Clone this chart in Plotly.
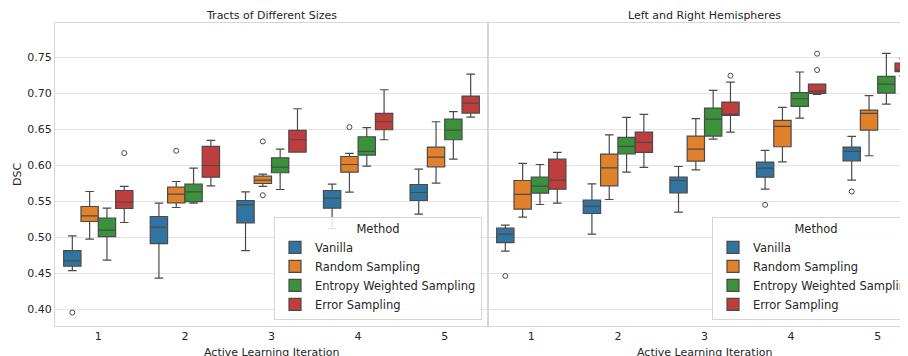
import plotly.graph_objects as go

METHODS = ["Vanilla", "Random Sampling", "Entropy Weighted Sampling", "Error Sampling"]
ITERATIONS = [1, 2, 3, 4, 5]
PANELS = ["Tracts of Different Sizes", "Left and Right Hemispheres"]
COLORS = ["#3274a1", "#e1812c", "#3a923a", "#c03d3e"]

# ---- Tracts of Different Sizes (rows = methods, cols = iterations) ----
tracts_lower = [
    [0.4537, 0.4431, 0.4815, 0.5120, 0.5320],
    [0.4972, 0.5412, 0.5704, 0.5625, 0.5750],
    [0.4681, 0.5472, 0.5662, 0.5986, 0.6083],
    [0.5204, 0.5713, 0.6181, 0.6352, 0.6667],
]
tracts_q1 = [
    [0.4597, 0.4912, 0.5199, 0.5403, 0.5509],
    [0.5218, 0.5477, 0.5745, 0.5903, 0.5977],
    [0.5009, 0.5495, 0.5894, 0.6139, 0.6352],
    [0.5398, 0.5833, 0.6181, 0.6491, 0.6722],
]
tracts_median = [
    [0.4671, 0.5139, 0.5449, 0.5542, 0.5620],
    [0.5296, 0.5597, 0.5792, 0.6009, 0.6111],
    [0.5097, 0.5630, 0.5972, 0.6190, 0.6486],
    [0.5486, 0.5995, 0.6352, 0.6602, 0.6861],
]
tracts_q3 = [
    [0.4815, 0.5287, 0.5509, 0.5648, 0.5731],
    [0.5426, 0.5694, 0.5847, 0.6120, 0.6250],
    [0.5264, 0.5736, 0.6102, 0.6394, 0.6639],
    [0.5648, 0.6259, 0.6481, 0.6718, 0.6958],
]
tracts_upper = [
    [0.5019, 0.5472, 0.5630, 0.5736, 0.5944],
    [0.5634, 0.5773, 0.5875, 0.6162, 0.6602],
    [0.5403, 0.5958, 0.6222, 0.6519, 0.6741],
    [0.5704, 0.6343, 0.6782, 0.7046, 0.7264],
]
# outliers: (method index, iteration, value)
tracts_outliers = [
    (0, 1, 0.3954), (1, 2, 0.6199), (1, 3, 0.6329), (1, 3, 0.5583),
    (1, 4, 0.6528), (3, 1, 0.6167),
]

# ---- Left and Right Hemispheres ----
hemi_lower = [
    [0.4806, 0.5042, 0.5347, 0.5667, 0.5792],
    [0.5278, 0.5523, 0.5935, 0.6046, 0.6130],
    [0.5454, 0.5903, 0.6361, 0.6653, 0.6847],
    [0.5472, 0.5968, 0.6458, 0.6981, 0.7241],
]
hemi_q1 = [
    [0.4926, 0.5329, 0.5616, 0.5833, 0.6060],
    [0.5389, 0.5713, 0.6056, 0.6255, 0.6486],
    [0.5611, 0.6157, 0.6403, 0.6815, 0.7000],
    [0.5667, 0.6176, 0.6690, 0.6995, 0.7296],
]
hemi_median = [
    [0.5042, 0.5431, 0.5787, 0.5958, 0.6190],
    [0.5593, 0.5963, 0.6222, 0.6537, 0.6718],
    [0.5708, 0.6259, 0.6639, 0.6921, 0.7125],
    [0.5792, 0.6315, 0.6704, 0.7028, 0.7319],
]
hemi_q3 = [
    [0.5125, 0.5514, 0.5833, 0.6042, 0.6250],
    [0.5787, 0.6153, 0.6403, 0.6620, 0.6764],
    [0.5833, 0.6384, 0.6792, 0.7005, 0.7231],
    [0.6083, 0.6458, 0.6875, 0.7125, 0.7417],
]
hemi_upper = [
    [0.5167, 0.5741, 0.5981, 0.6204, 0.6398],
    [0.6023, 0.6421, 0.6644, 0.6801, 0.6963],
    [0.6009, 0.6662, 0.7037, 0.7292, 0.7551],
    [0.6176, 0.6704, 0.7153, 0.7125, 0.7481],
]
hemi_outliers = [
    (0, 1, 0.4463), (3, 3, 0.7241), (0, 4, 0.5449), (3, 4, 0.7546),
    (3, 4, 0.7319), (0, 5, 0.5634), (3, 5, 0.7773),
]

Y_TICKS = [0.40, 0.45, 0.50, 0.55, 0.60, 0.65, 0.70, 0.75]

# ---------------- figure ----------------
# the page body adds an 8px offset, so the figure is 8px smaller than the window
W, H = 900, 348
ML, MR, MT, MB = 47, 0, 15, 30
plot_w = W - ML - MR
panel_px = 433
split = panel_px / plot_w
n_m = len(METHODS)
group_w = 0.8
box_w = group_w / n_m

LINE = "#4a4a4a"
TXT = "#262626"
FONT = "DejaVu Sans"

fig = go.Figure()

panels = [
    (tracts_lower, tracts_q1, tracts_median, tracts_q3, tracts_upper, tracts_outliers, "x", "y", "legend"),
    (hemi_lower, hemi_q1, hemi_median, hemi_q3, hemi_upper, hemi_outliers, "x2", "y2", "legend2"),
]

for lo, q1, md, q3, up, outl, xa, ya, lg in panels:
    for j, m in enumerate(METHODS):
        off = (j - (n_m - 1) / 2) * box_w
        xs = [it + off for it in ITERATIONS]
        fig.add_trace(go.Box(
            x=xs, q1=q1[j], median=md[j], q3=q3[j],
            lowerfence=lo[j], upperfence=up[j],
            width=box_w, whiskerwidth=0.5,
            fillcolor=COLORS[j], line=dict(color=LINE, width=1.2),
            name=m, legend=lg, xaxis=xa, yaxis=ya, boxpoints=False,
            showlegend=True,
        ))
    ox = [it + (mi - (n_m - 1) / 2) * box_w for mi, it, v in outl]
    oy = [v for mi, it, v in outl]
    fig.add_trace(go.Scatter(
        x=ox, y=oy, mode="markers", xaxis=xa, yaxis=ya, showlegend=False,
        marker=dict(symbol="circle-open", size=5, color=LINE, line=dict(width=1, color=LINE)),
    ))

y_range = [0.3768, 0.7972]
right_end = 0.5 + (plot_w - panel_px) / (panel_px / 5)

axis_common = dict(showline=True, linecolor="#d6d6d6", linewidth=1, zeroline=False,
                   ticks="", tickfont=dict(family=FONT, size=11, color=TXT))

legend_common = dict(title=dict(text="Method", side="top center",
                                font=dict(family=FONT, size=11.5, color=TXT)),
                     y=0.02, yanchor="bottom",
                     bgcolor="rgba(255,255,255,0.85)", bordercolor="#d6d6d6", borderwidth=1,
                     font=dict(family=FONT, size=11.5, color=TXT), tracegroupgap=0,
                     itemwidth=30)

fig.update_layout(
    width=W, height=H,
    margin=dict(l=ML, r=MR, t=MT, b=MB, autoexpand=False),
    paper_bgcolor="white", plot_bgcolor="white",
    font=dict(family=FONT, size=11, color=TXT),
    xaxis=dict(domain=[0, split], range=[0.5, 5.5], tickvals=ITERATIONS,
               ticktext=[str(i) for i in ITERATIONS], showgrid=False, mirror=True,
               **axis_common),
    xaxis2=dict(domain=[split, 1], range=[0.5, right_end], tickvals=ITERATIONS,
                ticktext=[str(i) for i in ITERATIONS], showgrid=False, mirror=True,
                anchor="y2", **axis_common),
    yaxis=dict(range=y_range, tickvals=Y_TICKS, ticktext=[f"{v:.2f}" for v in Y_TICKS],
               showgrid=True, gridcolor="#e3e3e3", gridwidth=1, mirror=True,
               title=dict(text="DSC", font=dict(family=FONT, size=11, color=TXT), standoff=3),
               **axis_common),
    yaxis2=dict(range=y_range, tickvals=Y_TICKS, showticklabels=False, anchor="x2",
                showgrid=True, gridcolor="#e3e3e3", gridwidth=1, mirror=False,
                **axis_common),
    legend=dict(x=(482 - 55) / plot_w, xanchor="right", **legend_common),
    legend2=dict(x=(712 - 55) / plot_w, xanchor="left", **legend_common),
    showlegend=True,
)

for xa, title in zip(["x", "x2"], PANELS):
    fig.add_annotation(text=title, x=3, xref=xa, y=1, yref="paper", yanchor="bottom",
                       showarrow=False, yshift=-1, font=dict(family=FONT, size=11, color=TXT))
    fig.add_annotation(text="Active Learning Iteration", x=3, xref=xa, y=0, yref="paper",
                       yanchor="top", showarrow=False, yshift=-18,
                       font=dict(family=FONT, size=11, color=TXT))

fig.write_html("out.html")
